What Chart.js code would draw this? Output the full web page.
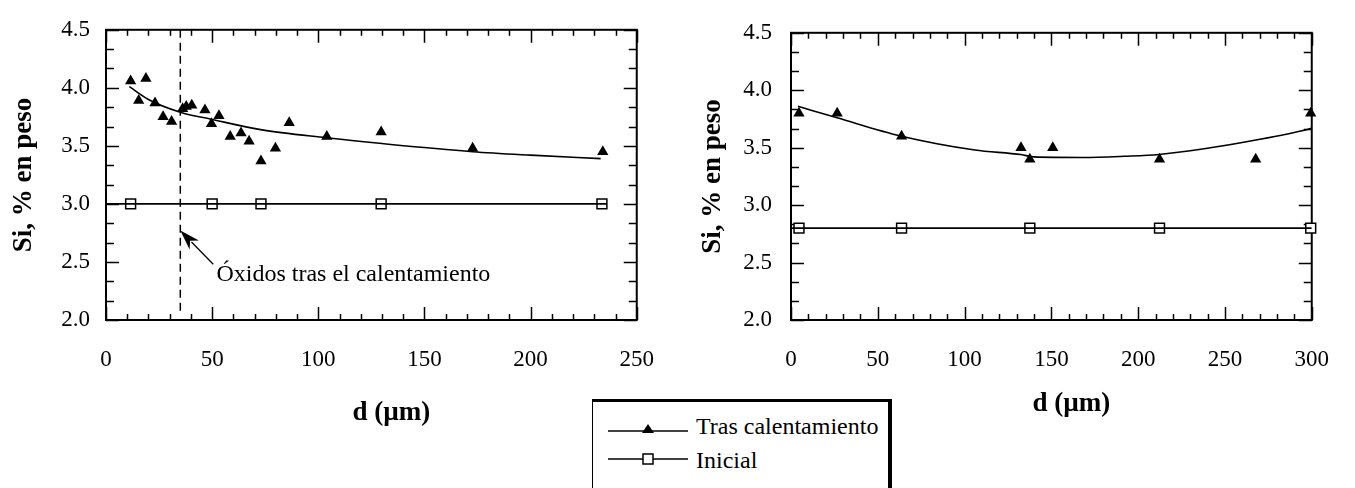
<!DOCTYPE html>
<html><head><meta charset="utf-8">
<script src="https://cdn.jsdelivr.net/npm/chart.js@4.4.1/dist/chart.umd.min.js"></script>
<style>
html,body{margin:0;padding:0;background:#fff;width:1355px;height:488px;overflow:hidden;position:relative;}
#c1{position:absolute;left:0;top:0;}
#c2{position:absolute;left:680px;top:0;}
#legend{position:absolute;left:592px;top:399px;width:300px;height:110px;background:#fff;border-left:1.5px solid #000;border-top:3px solid #000;border-right:4px solid #000;box-sizing:border-box;font-family:"Liberation Serif",serif;font-size:24px;color:#000;}
.sym{position:absolute;left:15px;}
.lab{position:absolute;left:103px;line-height:26px;white-space:nowrap;}
</style></head>
<body>
<canvas id="c1" width="680" height="488"></canvas>
<canvas id="c2" width="675" height="488"></canvas>
<div id="legend">
  <svg class="sym" style="top:17px" width="82" height="20"><line x1="0" y1="12" x2="80" y2="12" stroke="#000" stroke-width="1.5"/><polygon points="40,5 46,14 34,14" fill="#000"/></svg>
  <div class="lab" id="lg1" style="top:11px"></div>
  <svg class="sym" style="top:47px" width="82" height="20"><line x1="0" y1="10" x2="80" y2="10" stroke="#000" stroke-width="1.5"/><rect x="35" y="5" width="10" height="10" fill="#fff" stroke="#000" stroke-width="1.5"/></svg>
  <div class="lab" id="lg2" style="top:45px"></div>
</div>
<script>
// ---------- data: left panel ----------
const leftTriD  = [11.6, 18.8, 15.4, 23.1, 26.9, 30.9, 36.1, 37.8, 40.4, 46.6, 49.7, 53.2, 58.5, 63.6, 67.4, 73.0, 79.8, 86.3, 104, 129.6, 172.7, 234];
const leftTriSi = [4.06, 4.08, 3.89, 3.87, 3.75, 3.71, 3.82, 3.84, 3.85, 3.81, 3.69, 3.76, 3.58, 3.61, 3.54, 3.37, 3.48, 3.70, 3.58, 3.62, 3.48, 3.45];
const leftFitD  = [11, 20, 35, 49.5, 72.8, 103.7, 130, 172.7, 200, 233];
const leftFitSi = [4.01, 3.90, 3.79, 3.73, 3.64, 3.57, 3.52, 3.45, 3.42, 3.39];
const leftInitD  = [11.6, 50, 73, 129.6, 233.6];
const leftInitSi = [3.0, 3.0, 3.0, 3.0, 3.0];
const leftInitLineD  = [0, 236];
const leftInitLineSi = [3.0, 3.0];
const oxideD = 35;                 // dashed marker position
const oxideLineSi = [4.5, 2.06];
const oxideText = "Óxidos tras el calentamiento";
const arrowFrom = {x: 50.5, y: 2.48};
const arrowTo   = {x: 35, y: 2.77};
const textAt    = {x: 52, y: 2.39};

// ---------- data: right panel ----------
const rightTriD  = [4.6, 26.6, 63.7, 132.5, 137.6, 150.8, 212.3, 267.7, 299.4];
const rightTriSi = [3.80, 3.80, 3.60, 3.50, 3.40, 3.50, 3.40, 3.40, 3.80];
const rightFitD  = [4, 26.6, 63.7, 105.9, 132.5, 140, 168, 192, 212, 238, 265.5, 295, 300];
const rightFitSi = [3.86, 3.76, 3.60, 3.48, 3.44, 3.42, 3.415, 3.425, 3.44, 3.49, 3.56, 3.65, 3.67];
const rightInitD  = [4.6, 63.7, 137.6, 212.3, 299.4];
const rightInitSi = [2.8, 2.8, 2.8, 2.8, 2.8];
const rightInitLineD  = [0, 300];
const rightInitLineSi = [2.8, 2.8];

// ---------- axes / labels ----------
const yMin = 2.0, yMax = 4.5, yStep = 0.5;
const leftXMax = 250, rightXMax = 300, xStep = 50;
const yTitle = "Si, % en peso";
const xTitle = "d (\u00b5m)";
const legendLabels = ["Tras calentamiento", "Inicial"];
document.getElementById('lg1').textContent = legendLabels[0];
document.getElementById('lg2').textContent = legendLabels[1];

const pts = (xs, ys) => xs.map((x, i) => ({x: x, y: ys[i]}));
const SERIF = "'Liberation Serif', 'Times New Roman', serif";

const framePlugin = {
  id: 'frame',
  beforeDatasetsDraw(chart) {
    const o = chart.options.plugins.frame;
    const {ctx, chartArea: a, scales: {x, y}} = chart;
    ctx.save();
    ctx.strokeStyle = '#000';
    ctx.lineWidth = 1.5;
    ctx.beginPath();
    const nx = Math.round((x.max - x.min) / o.xMinor);
    for (let i = 0; i <= nx; i++) {
      const v = x.min + i * o.xMinor;
      const px = Math.round(x.getPixelForValue(v)) + 0.5;
      const major = Math.abs(v / o.xMajor - Math.round(v / o.xMajor)) < 1e-6;
      const L = major ? 13 : 6;
      ctx.moveTo(px, a.bottom); ctx.lineTo(px, a.bottom - L);
      ctx.moveTo(px, a.top); ctx.lineTo(px, a.top + L);
    }
    const ny = Math.round((y.max - y.min) / o.yMinor);
    for (let i = 0; i <= ny; i++) {
      const v = y.min + i * o.yMinor;
      const py = Math.round(y.getPixelForValue(v)) + 0.5;
      const major = Math.abs(v / o.yMajor - Math.round(v / o.yMajor)) < 1e-6;
      const L = major ? 13 : 8;
      ctx.moveTo(a.left, py); ctx.lineTo(a.left + L, py);
      ctx.moveTo(a.right, py); ctx.lineTo(a.right - L, py);
    }
    ctx.stroke();
    ctx.lineWidth = 2;
    ctx.strokeRect(a.left, a.top, a.right - a.left, a.bottom - a.top);
    ctx.restore();
  },
  afterDraw(chart) {
    const o = chart.options.plugins.frame;
    const {ctx, chartArea: a} = chart;
    ctx.save();
    ctx.fillStyle = '#000';
    ctx.font = "bold 27px " + SERIF;
    ctx.textAlign = 'center';
    ctx.textBaseline = 'middle';
    ctx.fillText(o.xTitle, (a.left + a.right) / 2 + o.xTitleDx, o.xTitleY);
    ctx.restore();
  }
};

const annotPlugin = {
  id: 'annot',
  afterDatasetsDraw(chart) {
    const o = chart.options.plugins.annot;
    if (!o || !o.text) return;
    const {ctx, scales: {x, y}} = chart;
    const x0 = x.getPixelForValue(o.from.x), y0 = y.getPixelForValue(o.from.y);
    const x1 = x.getPixelForValue(o.to.x), y1 = y.getPixelForValue(o.to.y);
    const ang = Math.atan2(y1 - y0, x1 - x0);
    const hl = 20, hw = 6.5;
    ctx.save();
    ctx.strokeStyle = '#000'; ctx.fillStyle = '#000'; ctx.lineWidth = 1.3;
    ctx.beginPath();
    ctx.moveTo(x0, y0);
    ctx.lineTo(x1 - (hl - 4) * Math.cos(ang), y1 - (hl - 4) * Math.sin(ang));
    ctx.stroke();
    ctx.beginPath();
    ctx.moveTo(x1, y1);
    const bx = x1 - hl * Math.cos(ang), by = y1 - hl * Math.sin(ang);
    ctx.lineTo(bx + hw * Math.sin(ang), by - hw * Math.cos(ang));
    ctx.lineTo(x1 - (hl - 6) * Math.cos(ang), y1 - (hl - 6) * Math.sin(ang));
    ctx.lineTo(bx - hw * Math.sin(ang), by + hw * Math.cos(ang));
    ctx.closePath();
    ctx.fill();
    ctx.font = "24px " + SERIF;
    ctx.textBaseline = 'middle';
    ctx.textAlign = 'left';
    ctx.fillText(o.text, x.getPixelForValue(o.textAt.x), y.getPixelForValue(o.textAt.y));
    ctx.restore();
  }
};

function makeChart(id, cfg) {
  const datasets = [
    {data: pts(cfg.fitD, cfg.fitSi), showLine: true, borderColor: '#000', borderWidth: 1.6,
     pointRadius: 0, cubicInterpolationMode: 'monotone', fill: false},
    {data: pts(cfg.triD, cfg.triSi), showLine: false, pointStyle: 'triangle', pointRadius: 6.5,
     backgroundColor: '#000', borderColor: '#000', borderWidth: 0, clip: false},
    {data: pts(cfg.initLineD, cfg.initLineSi), showLine: true, borderColor: '#000', borderWidth: 1.6,
     pointRadius: 0, fill: false},
    {data: pts(cfg.initD, cfg.initSi), showLine: false, pointStyle: 'rect', pointRadius: 7,
     backgroundColor: '#fff', borderColor: '#000', borderWidth: 1.5, clip: false}
  ];
  if (cfg.oxide) {
    datasets.push({data: pts([cfg.oxide.d, cfg.oxide.d], cfg.oxide.si), showLine: true, borderColor: '#000',
      borderWidth: 1.5, borderDash: [8, 5], pointRadius: 0, fill: false});
  }
  return new Chart(document.getElementById(id), {
    type: 'scatter',
    data: {datasets},
    options: {
      responsive: false, animation: false, devicePixelRatio: 1,
      layout: {padding: {top: 25, right: cfg.padRight, left: 0, bottom: 0}},
      plugins: {
        legend: {display: false}, tooltip: {enabled: false},
        frame: {xMinor: 10, xMajor: 50, yMinor: yStep / 3, yMajor: yStep,
                xTitle: xTitle, xTitleDx: 20, xTitleY: cfg.xTitleY},
        annot: cfg.annot || {}
      },
      scales: {
        x: {
          type: 'linear', min: 0, max: cfg.xMax,
          grid: {display: false, drawTicks: false}, border: {display: false},
          ticks: {stepSize: xStep, padding: 26, color: '#000', font: {family: SERIF, size: 23},
                  maxRotation: 0, callback: v => String(v)},
          title: {display: false},
          afterFit: s => { s.height = 168; }
        },
        y: {
          type: 'linear', min: yMin, max: yMax,
          grid: {display: false, drawTicks: false}, border: {display: false},
          ticks: {stepSize: yStep, padding: cfg.yTickPad, color: '#000', font: {family: SERIF, size: 23},
                  callback: v => Number(v).toFixed(1)},
          title: {display: true, text: yTitle, color: '#000', font: {family: SERIF, size: 27, weight: 'bold'},
                  padding: {top: cfg.yTitlePad, bottom: 0}},
          afterFit: s => { s.width = cfg.yWidth; }
        }
      }
    },
    plugins: [framePlugin, annotPlugin]
  });
}

makeChart('c1', {
  fitD: leftFitD, fitSi: leftFitSi, triD: leftTriD, triSi: leftTriSi,
  initD: leftInitD, initSi: leftInitSi, initLineD: leftInitLineD, initLineSi: leftInitLineSi,
  oxide: {d: oxideD, si: oxideLineSi},
  annot: {from: arrowFrom, to: arrowTo, text: oxideText, textAt: textAt},
  xMax: leftXMax, padRight: 35, yWidth: 106, yTickPad: 16, yTitlePad: 8, xTitleY: 413
});
makeChart('c2', {
  fitD: rightFitD, fitSi: rightFitSi, triD: rightTriD, triSi: rightTriSi,
  initD: rightInitD, initSi: rightInitSi, initLineD: rightInitLineD, initLineSi: rightInitLineSi,
  xMax: rightXMax, padRight: 19, yWidth: 111, yTickPad: 19, yTitlePad: 17, xTitleY: 404
});
</script>
</body></html>
